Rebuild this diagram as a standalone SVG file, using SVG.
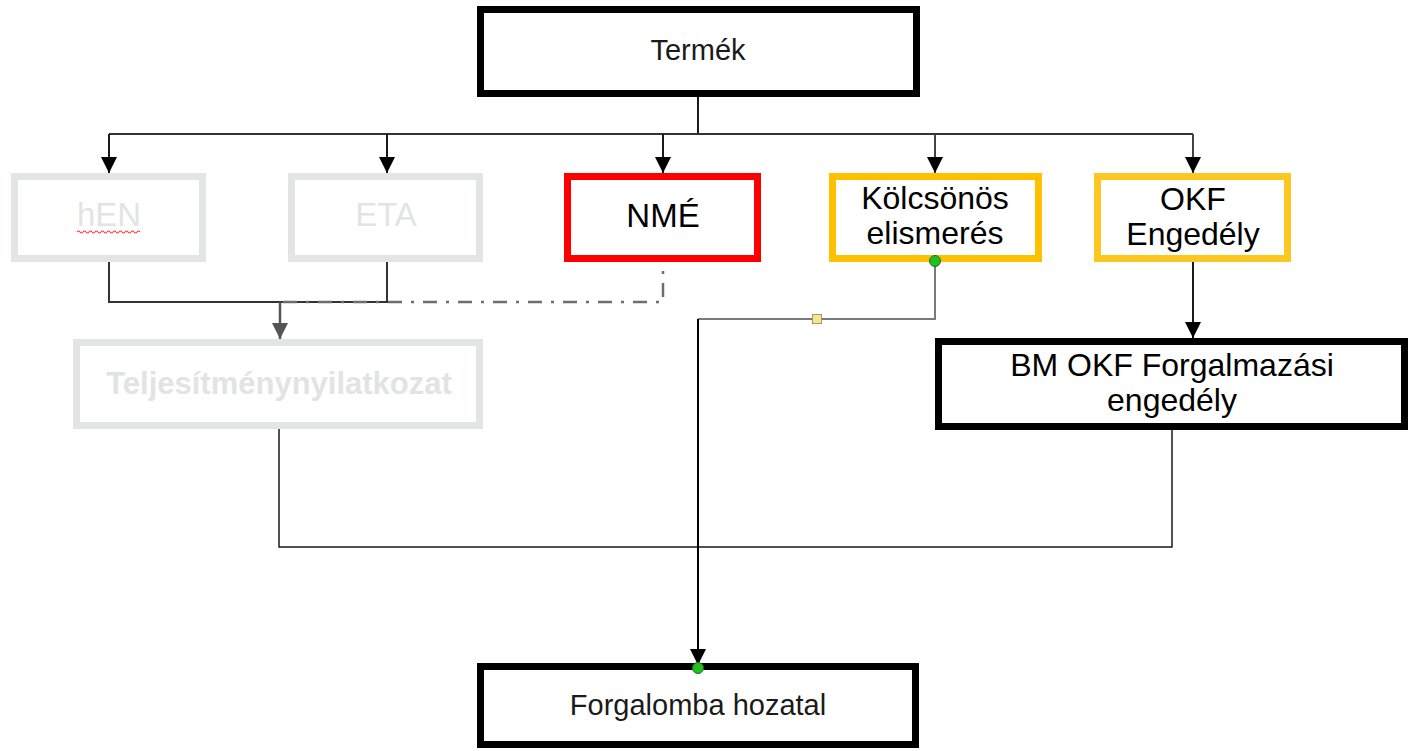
<svg xmlns="http://www.w3.org/2000/svg" width="1408" height="751" viewBox="0 0 1408 751">
<style>
  .t { font-family: "Liberation Sans", Arial, sans-serif; text-anchor: middle; }
  .big { font-size: 32px; fill: #000; }
  .mid { font-size: 29px; fill: #1a1a1a; }
  .gray { font-size: 33px; fill: #e2e4e3; }
  .bx { fill: #fff; stroke-width: 7; }
  .blk { stroke: #000; }
  .gr { stroke: #e3e5e4; }
  .conn { fill: none; stroke: #1a1a1a; stroke-width: 2; }
</style>
<defs>
  <marker id="ah" markerUnits="userSpaceOnUse" markerWidth="16" markerHeight="16" viewBox="0 0 16 16" refX="16" refY="8" orient="auto">
    <path d="M0,0 L16,8 L0,16 Z" fill="#000"/>
  </marker>
  <marker id="ahg" markerUnits="userSpaceOnUse" markerWidth="16" markerHeight="16" viewBox="0 0 16 16" refX="16" refY="8" orient="auto">
    <path d="M0,0 L16,8 L0,16 Z" fill="#555"/>
  </marker>
</defs>
<rect width="1408" height="751" fill="#fff"/>

<g id="termek">
  <rect class="bx blk" x="480.5" y="9.5" width="436" height="84"/>
  <text class="t mid" x="698" y="60">Termék</text>
</g>

<g id="hen">
  <rect class="bx gr" x="14.5" y="176.5" width="188" height="82"/>
  <text class="t gray" x="109" y="226">hEN</text>
  <path d="M77,232 q1.5,-2 3,0 t3,0 t3,0 t3,0 t3,0 t3,0 t3,0 t3,0 t3,0 t3,0 t3,0 t3,0 t3,0 t3,0 t3,0 t3,0 t3,0 t3,0 t3,0 t3,0 t3,0" fill="none" stroke="#ff3b3b" stroke-width="1.2"/>
</g>

<g id="eta">
  <rect class="bx gr" x="291.5" y="176.5" width="188" height="82"/>
  <text class="t gray" x="386" y="226">ETA</text>
</g>

<g id="nme">
  <rect class="bx" x="567.5" y="176.5" width="190" height="82" stroke="#ff0000"/>
  <text class="t big" x="663" y="227" style="font-size:33px">NMÉ</text>
</g>

<g id="kolcsonos">
  <rect class="bx" x="832.5" y="176.5" width="206" height="82" stroke="#ffc000"/>
  <text class="t big" x="935" y="209">Kölcsönös</text>
  <text class="t big" x="935" y="244">elismerés</text>
</g>

<g id="okf">
  <rect class="bx" x="1097.5" y="176.5" width="190" height="82" stroke="#fdc721"/>
  <text class="t big" x="1193" y="210">OKF</text>
  <text class="t big" x="1193" y="245">Engedély</text>
</g>

<g id="teljesitmeny">
  <rect class="bx gr" x="76.5" y="342.5" width="403" height="83"/>
  <text class="t gray" x="279" y="394" style="font-weight:bold;font-size:31px">Teljesítménynyilatkozat</text>
</g>

<g id="bmokf">
  <rect class="bx blk" x="938.5" y="341.5" width="466" height="85"/>
  <text class="t big" x="1172" y="376">BM OKF Forgalmazási</text>
  <text class="t big" x="1172" y="411">engedély</text>
</g>

<g id="forgalomba">
  <rect class="bx blk" x="480.5" y="666.5" width="435" height="78"/>
  <text class="t mid" x="698" y="715">Forgalomba hozatal</text>
</g>

<g id="connectors">
  <path class="conn" d="M698,97 V134"/>
  <path class="conn" d="M109,134 H1193" style="stroke:#333"/>
  <path class="conn" d="M109,134 V173" style="marker-end:url(#ah)"/>
  <path class="conn" d="M387,134 V173" style="marker-end:url(#ah)"/>
  <path class="conn" d="M663,134 V173" style="marker-end:url(#ah)"/>
  <path class="conn" d="M935,134 V173" style="stroke:#444;marker-end:url(#ah)"/>
  <path class="conn" d="M1193,134 V173" style="stroke:#444;marker-end:url(#ah)"/>
  <path class="conn" d="M109,262 V302 H387 V262" style="stroke:#333"/>
  <path d="M283,302 H663 V262" fill="none" stroke="#6e6e6e" stroke-width="2.5" stroke-dasharray="14,9,3,9"/>
  <path d="M280,302 V339" fill="none" stroke="#555" stroke-width="2.5" style="marker-end:url(#ahg)"/>
  <path class="conn" d="M1193,262 V338" style="marker-end:url(#ah)"/>
  <path class="conn" d="M279,429 V547 H1172 V430" style="stroke-width:1.5"/>
  <path d="M935,262 V319 H698" fill="none" stroke="#7a7a7a" stroke-width="2"/>
  <path d="M698,319 V665" fill="none" stroke="#000" stroke-width="2" style="marker-end:url(#ah)"/>
  <rect x="812.5" y="314.5" width="9" height="9" fill="#fbe38a" stroke="#9a9a80" stroke-width="1"/>
  <circle cx="935" cy="261" r="5.5" fill="#1ec11e" stroke="#2a6a2a" stroke-width="1"/>
  <circle cx="698" cy="668" r="5.5" fill="#1ec11e" stroke="#2a6a2a" stroke-width="1"/>
</g>
</svg>
